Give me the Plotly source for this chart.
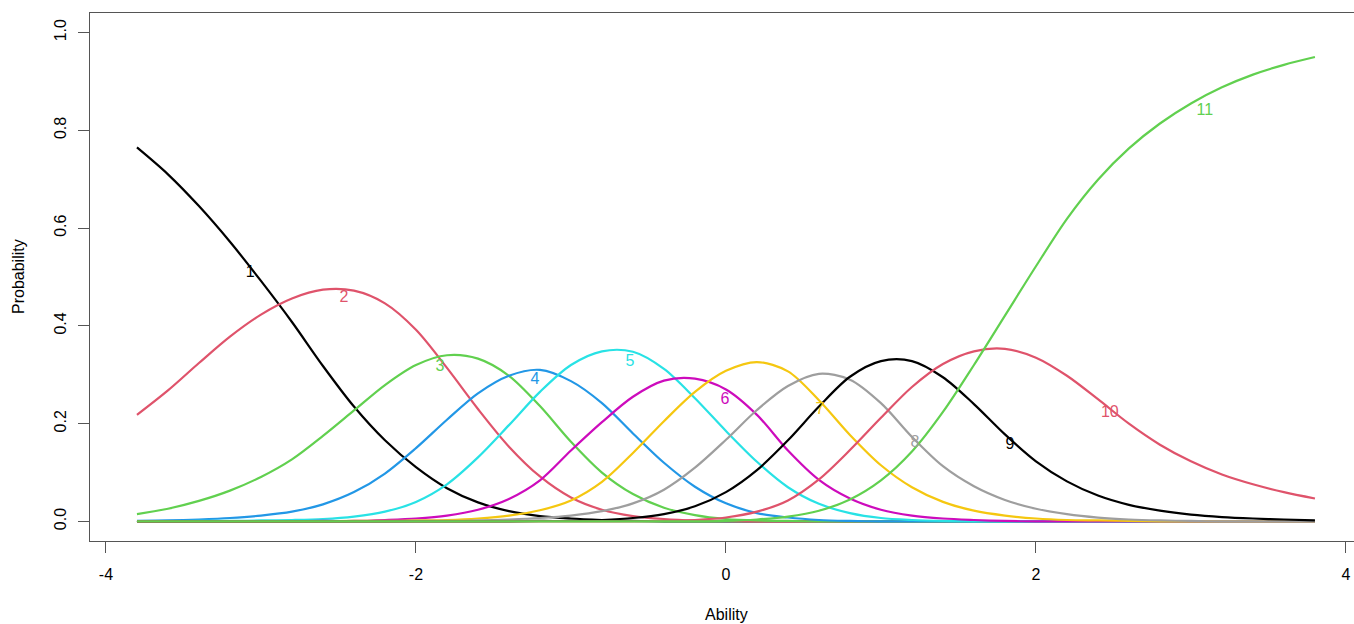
import plotly.graph_objects as go

ability = [-3.8, -3.6, -3.4, -3.2, -3.0, -2.8, -2.6, -2.4, -2.2, -2.0,
           -1.8, -1.6, -1.4, -1.2, -1.0, -0.8, -0.6, -0.4, -0.2, 0.0,
           0.2, 0.4, 0.6, 0.8, 1.0, 1.2, 1.4, 1.6, 1.8, 2.0,
           2.2, 2.4, 2.6, 2.8, 3.0, 3.2, 3.4, 3.6, 3.8]

cat1 = [0.765, 0.710, 0.645, 0.572, 0.492, 0.408, 0.318, 0.235, 0.166, 0.111,
        0.068, 0.039, 0.021, 0.011, 0.006, 0.003, 0.001, 0.0, 0.0, 0.0,
        0.0, 0.0, 0.0, 0.0, 0.0, 0.0, 0.0, 0.0, 0.0, 0.0,
        0.0, 0.0, 0.0, 0.0, 0.0, 0.0, 0.0, 0.0, 0.0]
cat2 = [0.218, 0.268, 0.324, 0.378, 0.423, 0.456, 0.474, 0.472, 0.446, 0.392,
        0.314, 0.230, 0.153, 0.092, 0.049, 0.024, 0.011, 0.005, 0.002, 0.001,
        0.0, 0.0, 0.0, 0.0, 0.0, 0.0, 0.0, 0.0, 0.0, 0.0,
        0.0, 0.0, 0.0, 0.0, 0.0, 0.0, 0.0, 0.0, 0.0]
cat3 = [0.015, 0.026, 0.042, 0.063, 0.091, 0.127, 0.175, 0.227, 0.279, 0.320,
        0.340, 0.333, 0.298, 0.236, 0.163, 0.100, 0.056, 0.028, 0.013, 0.005,
        0.002, 0.001, 0.0, 0.0, 0.0, 0.0, 0.0, 0.0, 0.0, 0.0,
        0.0, 0.0, 0.0, 0.0, 0.0, 0.0, 0.0, 0.0, 0.0]
cat4 = [0.001, 0.002, 0.004, 0.007, 0.012, 0.020, 0.035, 0.060, 0.098, 0.150,
        0.208, 0.262, 0.298, 0.310, 0.287, 0.242, 0.180, 0.120, 0.071, 0.037,
        0.017, 0.008, 0.003, 0.001, 0.0, 0.0, 0.0, 0.0, 0.0, 0.0,
        0.0, 0.0, 0.0, 0.0, 0.0, 0.0, 0.0, 0.0, 0.0]
cat5 = [0.0, 0.0, 0.001, 0.001, 0.002, 0.003, 0.005, 0.010, 0.020, 0.040,
        0.076, 0.131, 0.197, 0.265, 0.320, 0.348, 0.347, 0.312, 0.252, 0.185,
        0.122, 0.070, 0.036, 0.017, 0.007, 0.003, 0.001, 0.0, 0.0, 0.0,
        0.0, 0.0, 0.0, 0.0, 0.0, 0.0, 0.0, 0.0, 0.0]
cat6 = [0.0, 0.0, 0.0, 0.0, 0.0, 0.0, 0.001, 0.001, 0.003, 0.006,
        0.012, 0.024, 0.046, 0.084, 0.145, 0.203, 0.255, 0.288, 0.292, 0.270,
        0.218, 0.145, 0.085, 0.047, 0.024, 0.012, 0.006, 0.003, 0.001, 0.0,
        0.0, 0.0, 0.0, 0.0, 0.0, 0.0, 0.0, 0.0, 0.0]
cat7 = [0.0, 0.0, 0.0, 0.0, 0.0, 0.0, 0.0, 0.001, 0.001, 0.002,
        0.003, 0.006, 0.012, 0.023, 0.043, 0.081, 0.140, 0.205, 0.265, 0.308,
        0.326, 0.307, 0.248, 0.177, 0.115, 0.070, 0.040, 0.022, 0.012, 0.006,
        0.003, 0.002, 0.001, 0.0, 0.0, 0.0, 0.0, 0.0, 0.0]
cat8 = [0.0, 0.0, 0.0, 0.0, 0.0, 0.0, 0.0, 0.0, 0.0, 0.001,
        0.001, 0.002, 0.004, 0.007, 0.012, 0.021, 0.037, 0.065, 0.110, 0.167,
        0.228, 0.277, 0.302, 0.290, 0.242, 0.173, 0.113, 0.072, 0.044, 0.026,
        0.015, 0.008, 0.004, 0.002, 0.001, 0.0, 0.0, 0.0, 0.0]
cat9 = [0.0, 0.0, 0.0, 0.0, 0.0, 0.0, 0.0, 0.0, 0.0, 0.0,
        0.0, 0.0, 0.0, 0.001, 0.001, 0.003, 0.007, 0.015, 0.031, 0.060,
        0.105, 0.166, 0.235, 0.296, 0.328, 0.328, 0.295, 0.240, 0.178, 0.123,
        0.082, 0.053, 0.034, 0.022, 0.014, 0.009, 0.006, 0.004, 0.002]
cat10 = [0.0, 0.0, 0.0, 0.0, 0.0, 0.0, 0.0, 0.0, 0.0, 0.0,
         0.0, 0.0, 0.0, 0.0, 0.0, 0.0, 0.0, 0.001, 0.003, 0.008,
         0.020, 0.043, 0.086, 0.146, 0.212, 0.275, 0.322, 0.348, 0.353, 0.335,
         0.298, 0.250, 0.200, 0.157, 0.123, 0.096, 0.076, 0.060, 0.047]
cat11 = [0.0, 0.0, 0.0, 0.0, 0.0, 0.0, 0.0, 0.0, 0.0, 0.0,
         0.0, 0.0, 0.0, 0.0, 0.0, 0.0, 0.0, 0.0, 0.0, 0.001,
         0.004, 0.010, 0.022, 0.045, 0.084, 0.143, 0.224, 0.320, 0.421, 0.522,
         0.619, 0.699, 0.763, 0.814, 0.855, 0.888, 0.914, 0.934, 0.950]

categories = ["1", "2", "3", "4", "5", "6", "7", "8", "9", "10", "11"]
series = [cat1, cat2, cat3, cat4, cat5, cat6, cat7, cat8, cat9, cat10, cat11]
colors = ["#000000", "#DF536B", "#61D04F", "#2297E6", "#28E2E5", "#CD0BBC",
          "#F5C710", "#9E9E9E", "#000000", "#DF536B", "#61D04F"]

label_x = [-3.07, -2.465, -1.845, -1.232, -0.619, -0.006, 0.606, 1.219, 1.832, 2.477, 3.09]
label_y = [0.508, 0.457, 0.316, 0.289, 0.326, 0.248, 0.227, 0.160, 0.156, 0.221, 0.840]

x_ticks = [-4, -2, 0, 2, 4]
x_tick_text = ["-4", "-2", "0", "2", "4"]
y_ticks = [0.0, 0.2, 0.4, 0.6, 0.8, 1.0]
y_tick_text = ["0.0", "0.2", "0.4", "0.6", "0.8", "1.0"]

FONT = "Arial, Liberation Sans, sans-serif"
AXIS_COL = "#555555"

fig = go.Figure()
for name, ys, col in zip(categories, series, colors):
    fig.add_trace(go.Scatter(
        x=ability, y=ys, mode="lines", name=name,
        line=dict(color=col, width=2.2, shape="spline", smoothing=0.9),
        showlegend=False, hoverinfo="x+y+name"))

fig.add_trace(go.Scatter(
    x=label_x, y=label_y, mode="text", text=categories,
    textfont=dict(family=FONT, size=16, color=colors),
    showlegend=False, hoverinfo="skip"))

fig.update_layout(
    width=1354, height=624,
    margin=dict(l=90, r=0, t=13, b=83, pad=0),
    paper_bgcolor="white", plot_bgcolor="white",
    font=dict(family=FONT, size=16, color="black"),
    xaxis=dict(range=[-4.103, 4.052], tickvals=x_ticks, ticktext=x_tick_text,
               showgrid=False, zeroline=False, showline=True, mirror=True,
               linecolor=AXIS_COL, linewidth=1, ticks="outside", ticklen=11,
               tickcolor=AXIS_COL, tickwidth=1, ticklabelstandoff=8,
               tickfont=dict(size=16, family=FONT, color="black")),
    yaxis=dict(range=[-0.04, 1.04], tickvals=y_ticks, ticktext=y_tick_text,
               showgrid=False, zeroline=False, showline=True, mirror=False,
               linecolor=AXIS_COL, linewidth=1, ticks="outside", ticklen=11,
               tickcolor=AXIS_COL, tickwidth=1, tickangle=-90, ticklabelstandoff=6,
               tickfont=dict(size=16, family=FONT, color="black")),
    annotations=[
        dict(text="Ability", xref="paper", yref="paper", x=(726 - 90) / 1264,
             y=-(614 - 540.5) / 528, xanchor="center", yanchor="middle",
             showarrow=False, font=dict(size=16, family=FONT, color="black")),
        dict(text="Probability", xref="paper", yref="paper", x=-(90 - 18) / 1264,
             y=0.5, xanchor="center", yanchor="middle", textangle=-90,
             showarrow=False, font=dict(size=16, family=FONT, color="black")),
    ],
)

fig.write_html("out.html")
